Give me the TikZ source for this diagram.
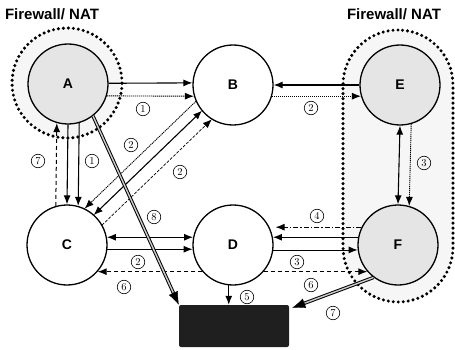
\documentclass[tikz,border=0pt]{standalone}
\usepackage{fontspec}
\newfontfamily\lsans{Liberation Sans}
\usetikzlibrary{arrows.meta,calc}
\begin{document}
\begin{tikzpicture}[x=1pt,y=-1pt,
 host/.style={circle,draw,line width=1.3pt,minimum size=80pt,inner sep=0pt,font=\lsans\bfseries\fontsize{14}{14}\selectfont},
 natnode/.style={host,fill=gray!20},
 pubnode/.style={host,fill=white},
 num/.style={circle,draw,line width=0.6pt,inner sep=0pt,minimum size=13.5pt,font=\fontsize{10.5}{10.5}\selectfont},
 arrone/.style={-{Latex[length=9pt,width=7pt]}},
 arrtwo/.style={{Latex[length=9pt,width=7pt]}-{Latex[length=9pt,width=7pt]}},
 lnsolid/.style={line width=1.1pt},
 lndot/.style={line width=0.9pt,dash pattern=on 1.2pt off 0.8pt},
 lndash/.style={line width=1pt,dash pattern=on 4pt off 3pt},
 lnthin/.style={line width=0.7pt,dash pattern=on 3pt off 1.5pt},
 lndashdot/.style={line width=1pt,dash pattern=on 5pt off 2pt on 1.5pt off 2pt},
 fwline/.style={line width=3.4pt,dash pattern=on 0pt off 5pt,line cap=round},
 bigline/.style={draw=black,double=gray!40,double distance=1.4pt,line width=1pt},
 fwlabel/.style={font=\lsans\bfseries\fontsize{15}{15}\selectfont},
]
\useasboundingbox (0,0) rectangle (455,350);
% firewall regions
\node[fwline,draw,fill=gray!7,rounded corners=55pt,minimum width=110pt,minimum height=272pt,inner sep=0pt] (fwEF) at (398,166) {};
\node[fwline,draw,fill=gray!7,circle,minimum size=110pt,inner sep=0pt] (fwA) at (67,83) {};
\node[fwlabel] (lblA) at (52,14) {Firewall/ NAT};
\node[fwlabel] (lblEF) at (394,14) {Firewall/ NAT};
% hosts
\node[natnode] (A) at (68,84) {A};
\node[pubnode] (B) at (233,85) {B};
\node[natnode] (E) at (400,85) {E};
\node[pubnode] (C) at (67,245) {C};
\node[pubnode] (D) at (233,245) {D};
\node[natnode] (F) at (398,245) {F};
\node[fill=black!88,minimum width=110pt,minimum height=42pt,inner sep=0pt,rounded corners=2pt] (box) at (234,326) {};
% A - B
\draw[lnsolid,arrone] (A.1) -- (B.177);
\draw[lndot,arrone] (A.-17) -- (B.-164);
% B - E
\draw[lnsolid,arrone] (E.180) -- (B.0);
\draw[lndot,arrone] (B.-16) -- (E.-164);
% A - C
\draw[lnsolid,arrone] (A.-90) -- (C.90);
\draw[lnsolid,arrone] (A.-74) -- (C.74);
\draw[lndash,arrone] (C.106) -- (A.-106);
% E - F
\draw[lnsolid,arrtwo] (E.-90) -- (F.90);
\draw[lndot,arrone] (E.-74) -- (F.74);
% B - C diagonals
\draw[lndot,arrone,shorten <=38pt,shorten >=38pt] ($(B)!14pt!-90:(C)$) -- ($(C)!14pt!90:(B)$);
\draw[lnsolid,arrtwo,shorten <=40pt,shorten >=40pt] ($(B)!3pt!-90:(C)$) -- ($(C)!3pt!90:(B)$);
\draw[lnthin,arrone,shorten <=39pt,shorten >=39pt] ($(C)!10pt!-90:(B)$) -- ($(B)!10pt!90:(C)$);
% C - D
\draw[lnsolid,arrtwo] (C.11) -- (D.169);
\draw[lndot,arrone] (C.-6) -- (D.-174);
\draw[lndash,arrone] (D.-139) -- (C.-41);
% D - F
\draw[lndash,arrone] (D.-41) -- (F.-139);
\draw[lndashdot,arrone,shorten >=6pt] (F.154) -- (D.26);
\draw[lnsolid,arrone] (F.169) -- (D.11);
\draw[lndot,arrone] (D.-7) -- (F.-173);
% to box
\draw[lnsolid,arrone] (D.-96) -- (D.-96 |- box.north);
\coordinate (a8s) at (A.-52);
\coordinate (a8e) at (box.north west);
\draw[bigline,shorten >=10pt] (a8s) -- (a8e);
\draw[-{Latex[length=13pt,width=10pt]}] ($(a8e)!14pt!(a8s)$) -- (a8e);
\coordinate (f7s) at (F.-127);
\coordinate (f7e) at ([xshift=3pt,yshift=-3pt]box.north east);
\draw[bigline,shorten >=10pt] (f7s) -- (f7e);
\draw[-{Latex[length=13pt,width=10pt]}] ($(f7e)!14pt!(f7s)$) -- (f7e);
% labels
\node[num] (n1) at (143,109) {1};
\node[num] (n2) at (311,108) {2};
\node[num] (n3) at (38,161) {7};
\node[num] (n4) at (92,161) {1};
\node[num] (n5) at (131,145) {2};
\node[num] (n6) at (180,172) {2};
\node[num] (n7) at (154,217) {8};
\node[num] (n8) at (138,262) {2};
\node[num] (n9) at (124,287) {6};
\node[num] (n10) at (424,163) {3};
\node[num] (n11) at (317,216) {4};
\node[num] (n12) at (297,262) {3};
\node[num] (n13) at (311,285) {6};
\node[num] (n14) at (247,297) {5};
\node[num] (n15) at (333,313) {7};
\end{tikzpicture}
\end{document}
